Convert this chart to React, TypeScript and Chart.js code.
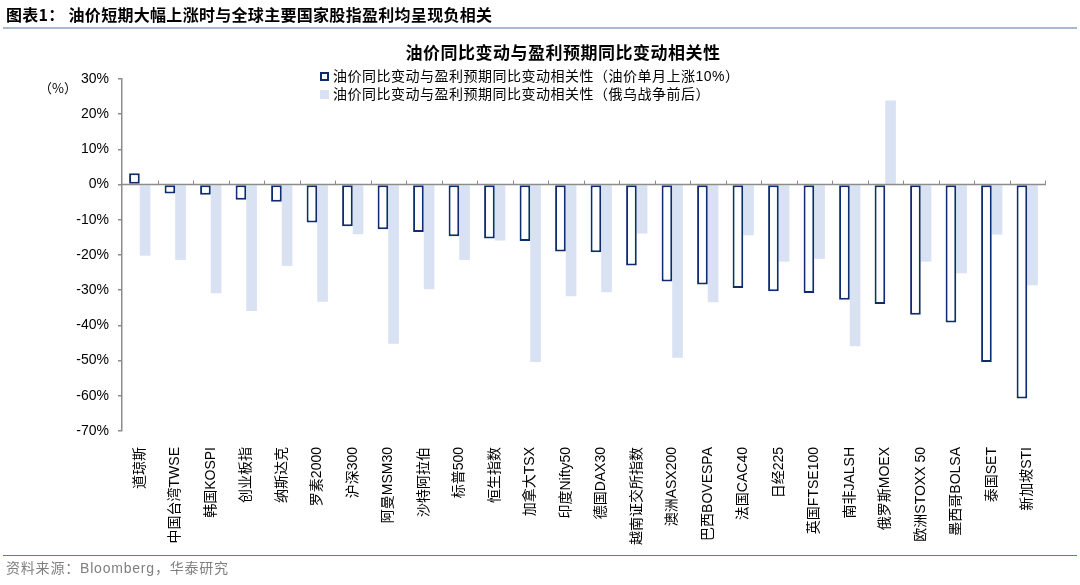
import React, { useEffect, useRef } from "react";
import { Chart, registerables } from "chart.js";

Chart.register(...registerables);

const categories = [
  "道琼斯", "中国台湾TWSE", "韩国KOSPI", "创业板指", "纳斯达克", "罗素2000",
  "沪深300", "阿曼MSM30", "沙特阿拉伯", "标普500", "恒生指数", "加拿大TSX",
  "印度Nifty50", "德国DAX30", "越南证交所指数", "澳洲ASX200", "巴西BOVESPA",
  "法国CAC40", "日经225", "英国FTSE100", "南非JALSH", "俄罗斯MOEX",
  "欧洲STOXX 50", "墨西哥BOLSA", "泰国SET", "新加坡STI",
];

const oilUp10 = [
  3.2, -2.5, -2.9, -4.3, -4.9, -10.8, -11.8, -12.7, -13.5, -14.7, -15.3, -16.0,
  -19.0, -19.2, -23.0, -27.5, -28.4, -29.4, -30.3, -30.8, -32.7, -33.9, -37.0,
  -39.2, -50.4, -60.8,
];

const russiaUkraine = [
  -20.2, -21.4, -30.9, -35.9, -23.1, -33.3, -14.1, -45.2, -29.7, -21.4, -15.9,
  -50.4, -31.7, -30.6, -13.9, -49.2, -33.4, -14.4, -21.9, -21.1, -45.9, 23.9,
  -21.9, -25.2, -14.2, -28.6,
];

const seriesNames = [
  "油价同比变动与盈利预期同比变动相关性（油价单月上涨10%）",
  "油价同比变动与盈利预期同比变动相关性（俄乌战争前后）",
];

const yMin = -70;
const yMax = 30;
const yStep = 10;

const NAVY = "#0E2D6E";
const LIGHT = "#D9E2F3";
const AXIS = "#8C8C8C";
const FONT = '"Liberation Sans", Arial, "Noto Sans CJK SC", sans-serif';
const CJK = '"Noto Sans CJK SC", "Liberation Sans", sans-serif';

const zeroAxisPlugin = {
  id: "zeroAxis",
  afterDatasetsDraw(chart: any) {
    const { ctx, chartArea, scales } = chart;
    const y0 = scales.y.getPixelForValue(0);
    const xs = scales.x;
    ctx.save();
    ctx.strokeStyle = AXIS;
    ctx.lineWidth = 1.5;
    ctx.beginPath();
    ctx.moveTo(chartArea.left, y0);
    ctx.lineTo(chartArea.right + 1, y0);
    ctx.stroke();
    ctx.lineWidth = 1;
    const n = xs.ticks.length;
    for (let i = 0; i < n; i++) {
      const b =
        i < n - 1
          ? (xs.getPixelForTick(i) + xs.getPixelForTick(i + 1)) / 2
          : chartArea.right;
      ctx.beginPath();
      ctx.moveTo(Math.round(b) + 0.5, y0);
      ctx.lineTo(Math.round(b) + 0.5, y0 - 4);
      ctx.stroke();
    }
    ctx.restore();
  },
};

export default function App() {
  const canvasRef = useRef<HTMLCanvasElement | null>(null);

  useEffect(() => {
    const canvas = canvasRef.current;
    if (!canvas) return;
    const chart = new Chart(canvas, {
      type: "bar",
      data: {
        labels: categories,
        datasets: [
          {
            label: seriesNames[0],
            data: oilUp10,
            backgroundColor: "#FFFFFF",
            borderColor: NAVY,
            borderWidth: 2,
            borderSkipped: false,
            categoryPercentage: 0.6,
            barPercentage: 1,
          },
          {
            label: seriesNames[1],
            data: russiaUkraine,
            backgroundColor: LIGHT,
            borderWidth: 0,
            categoryPercentage: 0.6,
            barPercentage: 1,
          },
        ],
      },
      options: {
        responsive: false,
        animation: false,
        devicePixelRatio: 1,
        layout: { padding: { left: 0, right: 35, top: 79, bottom: 0 } },
        plugins: {
          legend: { display: false },
          title: { display: false },
          tooltip: { enabled: false },
        },
        scales: {
          x: {
            grid: { display: false },
            border: { display: false },
            ticks: {
              autoSkip: false,
              minRotation: 90,
              maxRotation: 90,
              padding: 8,
              color: "#000000",
              font: { size: 14, family: FONT },
            },
            afterFit: (s: any) => {
              s.height = 154;
            },
          },
          y: {
            min: yMin,
            max: yMax,
            ticks: {
              stepSize: yStep,
              callback: (v: any) => `${v}%`,
              color: "#000000",
              padding: 9,
              font: { size: 14, family: FONT },
            },
            grid: {
              drawOnChartArea: false,
              drawTicks: true,
              tickLength: 4,
              color: AXIS,
              lineWidth: 1.5,
            },
            border: { color: AXIS, width: 1.5 },
            afterFit: (s: any) => {
              s.width = 122;
            },
          },
        },
      },
      plugins: [zeroAxisPlugin],
    });
    return () => chart.destroy();
  }, []);

  return (
    <div
      style={{
        position: "fixed",
        left: 0,
        top: 0,
        width: 1080,
        height: 585,
        background: "#FFFFFF",
        overflow: "hidden",
      }}
    >
      <canvas
        ref={canvasRef}
        width={1080}
        height={585}
        style={{ position: "absolute", left: 0, top: 0, width: 1080, height: 585 }}
      />
      <div
        style={{
          position: "absolute",
          left: 6,
          top: 3,
          fontFamily: CJK,
          fontWeight: 700,
          fontSize: 16,
          letterSpacing: 0.3,
          color: "#000",
          whiteSpace: "nowrap",
          lineHeight: "22px",
        }}
      >
        图表1：&nbsp;油价短期大幅上涨时与全球主要国家股指盈利均呈现负相关
      </div>
      <div
        style={{
          position: "absolute",
          left: 3,
          top: 27,
          width: 1074,
          height: 2,
          background: "#A9B8CE",
        }}
      />
      <div
        style={{
          position: "absolute",
          left: 300,
          width: 526,
          top: 40,
          textAlign: "center",
          fontFamily: CJK,
          fontWeight: 700,
          fontSize: 17,
          letterSpacing: 0.5,
          lineHeight: "24px",
          color: "#000",
          whiteSpace: "nowrap",
        }}
      >
        油价同比变动与盈利预期同比变动相关性
      </div>
      <div
        style={{
          position: "absolute",
          left: 320,
          top: 67,
          fontFamily: FONT,
          fontSize: 14,
          letterSpacing: 0.5,
          lineHeight: "18px",
          color: "#000",
          whiteSpace: "nowrap",
        }}
      >
        <div style={{ display: "flex", alignItems: "center" }}>
          <span
            style={{
              display: "inline-block",
              width: 5,
              height: 5,
              border: `2px solid ${NAVY}`,
              background: "#FFF",
              marginRight: 4,
            }}
          />
          <span>{seriesNames[0]}</span>
        </div>
        <div style={{ display: "flex", alignItems: "center" }}>
          <span
            style={{
              display: "inline-block",
              width: 9,
              height: 9,
              background: LIGHT,
              marginRight: 4,
            }}
          />
          <span>{seriesNames[1]}</span>
        </div>
      </div>
      <div
        style={{
          position: "absolute",
          left: 39,
          top: 79,
          fontFamily: CJK,
          fontSize: 13,
          lineHeight: "18px",
          color: "#000",
          whiteSpace: "nowrap",
        }}
      >
        （%）
      </div>
      <div
        style={{
          position: "absolute",
          left: 3,
          top: 555,
          width: 1074,
          height: 1,
          background: "#5B7BA6",
        }}
      />
      <div
        style={{
          position: "absolute",
          left: 6,
          top: 559,
          fontFamily: FONT,
          fontSize: 14,
          letterSpacing: 0.8,
          lineHeight: "18px",
          color: "#7F7F7F",
          whiteSpace: "nowrap",
        }}
      >
        资料来源：Bloomberg，华泰研究
      </div>
    </div>
  );
}
